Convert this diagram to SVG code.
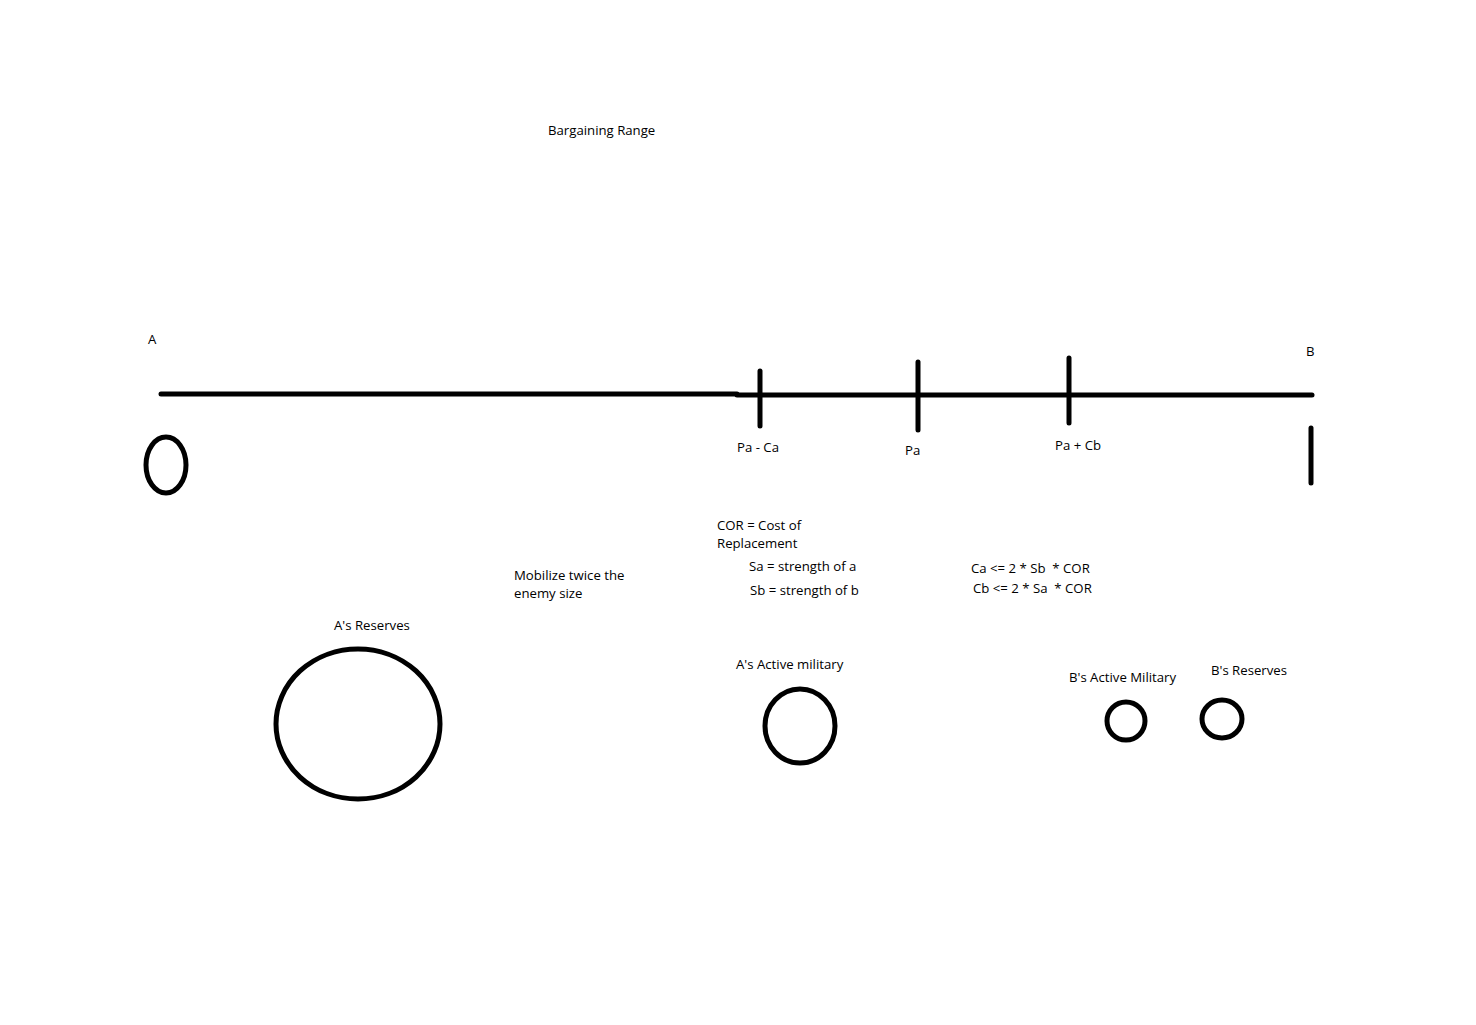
<svg xmlns="http://www.w3.org/2000/svg" width="1476" height="1025" viewBox="0 0 1476 1025">
<style>
text{font-family:"Open Sans","Liberation Sans",sans-serif;font-size:13.2px;fill:#000;white-space:pre}
.s{stroke:#000;stroke-width:5;fill:none;stroke-linecap:round}
</style>
<rect width="1476" height="1025" fill="#fff"/>
<text x="548" y="135">Bargaining Range</text>
<g id="connectors">
<line class="s" x1="161" y1="394" x2="737" y2="394"/>
<line class="s" x1="737" y1="395" x2="1312" y2="395"/>
<line class="s" x1="760" y1="371" x2="760" y2="426"/>
<line class="s" x1="918" y1="362" x2="918" y2="430"/>
<line class="s" x1="1069" y1="358" x2="1069" y2="423"/>
<line class="s" x1="1311" y1="428" x2="1311" y2="483"/>
</g>
<g id="nodeA"><text x="148" y="344">A</text><ellipse class="s" cx="166" cy="465" rx="20" ry="28"/></g>
<g id="nodeB"><text x="1306" y="356">B</text></g>
<g id="ticks">
<text x="737" y="452">Pa - Ca</text>
<text x="905" y="455">Pa</text>
<text x="1055" y="450">Pa + Cb</text>
</g>
<g id="notes">
<text x="717" y="530">COR = Cost of</text>
<text x="717" y="548">Replacement</text>
<text x="749" y="571">Sa = strength of a</text>
<text x="750" y="595">Sb = strength of b</text>
<text x="514" y="580">Mobilize twice the</text>
<text x="514" y="598">enemy size</text>
<text x="971" y="573">Ca &lt;= 2 * Sb  * COR</text>
<text x="973" y="593">Cb &lt;= 2 * Sa  * COR</text>
</g>
<g id="aReserves"><text x="334" y="630">A's Reserves</text><ellipse class="s" cx="358" cy="724" rx="82" ry="75"/></g>
<g id="aActive"><text x="736" y="669">A's Active military</text><ellipse class="s" cx="800" cy="726" rx="35" ry="37"/></g>
<g id="bActive"><text x="1069" y="682">B's Active Military</text><ellipse class="s" cx="1126" cy="721" rx="19" ry="19"/></g>
<g id="bReserves"><text x="1211" y="675">B's Reserves</text><ellipse class="s" cx="1222" cy="719" rx="20" ry="19"/></g>
</svg>
